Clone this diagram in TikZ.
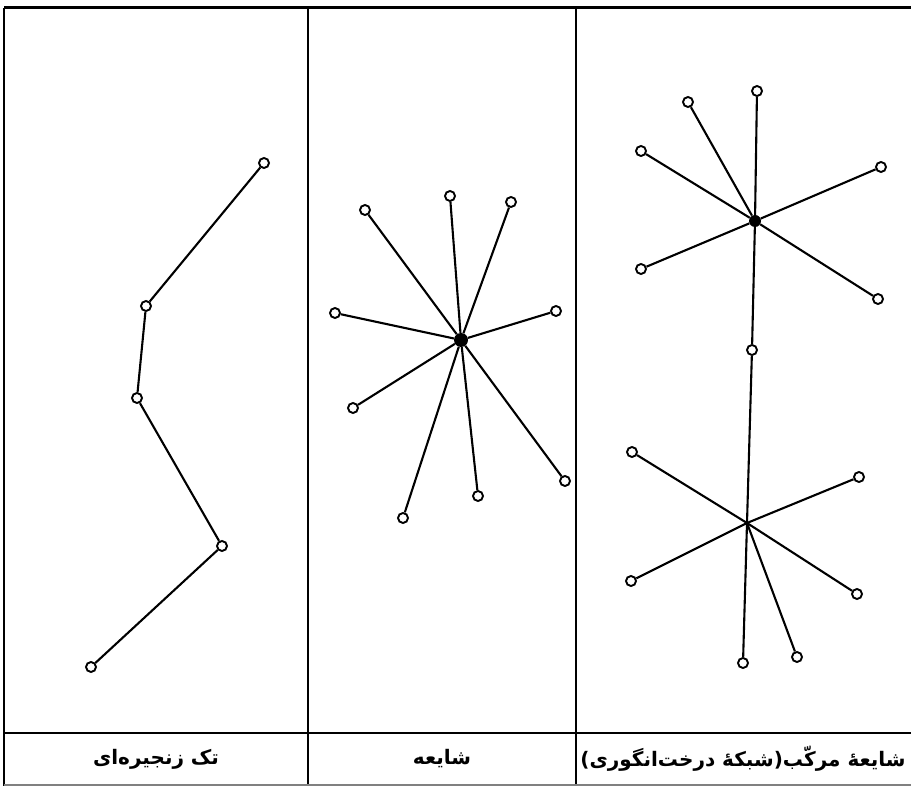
\documentclass[tikz,border=0pt]{standalone}
\usepackage{fontspec}
\usepackage{tikz}
\newfontfamily\arabicfont[Script=Arabic]{DejaVu Sans}
\TeXXeTstate=1

\begin{document}
\begin{tikzpicture}[x=1pt,y=-1pt,
  leaf/.style={circle,draw,fill=white,line width=1.9pt,inner sep=0pt,minimum size=10pt},
  hub/.style={circle,fill=black,inner sep=0pt,minimum size=14pt},
  link/.style={line width=2.1pt},
  colname/.style={font=\arabicfont\bfseries\fontsize{20}{24}\selectfont,inner sep=0pt}]
\path[use as bounding box] (0,0) rectangle (911,786);
% table frame
\draw[line width=3pt] (4,8) -- (911,8);
\draw[line width=2.6pt] (4,8) -- (4,786);
\draw[line width=2pt] (308,8) -- (308,786);
\draw[line width=2pt] (576,8) -- (576,786);
\draw[line width=2.4pt] (4,733) -- (911,733);
\draw[gray,line width=1.2pt] (4,785) -- (911,785);
% single chain
\node[leaf] (c1) at (264,163) {};
\node[leaf] (c2) at (146,306) {};
\node[leaf] (c3) at (137,398) {};
\node[leaf] (c4) at (222,546) {};
\node[leaf] (c5) at (91,667) {};
\draw[link] (c1) -- (c2) -- (c3) -- (c4) -- (c5);
% cluster
\node[hub] (s0) at (461,340) {};
\node[leaf] (s1) at (365,210) {};
\node[leaf] (s2) at (450,196) {};
\node[leaf] (s3) at (511,202) {};
\node[leaf] (s4) at (335,313) {};
\node[leaf] (s5) at (556,311) {};
\node[leaf] (s6) at (353,408) {};
\node[leaf] (s7) at (565,481) {};
\node[leaf] (s8) at (478,496) {};
\node[leaf] (s9) at (403,518) {};
\foreach \i in {1,...,9}
  \draw[link] (s0) -- (s\i);
% grapevine
\node[hub,minimum size=12pt] (g0) at (755,221) {};
\node[leaf] (g1) at (688,102) {};
\node[leaf] (g2) at (757,91) {};
\node[leaf] (g3) at (641,151) {};
\node[leaf] (g4) at (881,167) {};
\node[leaf] (g5) at (641,269) {};
\node[leaf] (g6) at (878,299) {};
\node[leaf] (gm) at (752,350) {};
\coordinate (h0) at (747,523);
\node[leaf] (h1) at (632,452) {};
\node[leaf] (h2) at (859,477) {};
\node[leaf] (h3) at (631,581) {};
\node[leaf] (h4) at (857,594) {};
\node[leaf] (h5) at (743,663) {};
\node[leaf] (h6) at (797,657) {};
\foreach \i in {1,...,6}
  \draw[link] (g0) -- (g\i);
\draw[link] (g0) -- (gm) -- (h0);
\foreach \i in {1,...,6}
  \draw[link] (h0) -- (h\i);
% column names
\node[colname] (t1) at (156,759) {\beginR تک زنجیره‌ای\endR};
\node[colname] (t2) at (442,759) {\beginR شایعه\endR};
\node[colname] (t3) at (743,759) {\beginR شایعهٔ مرکّب(شبکهٔ درخت‌انگوری)\endR};
\end{tikzpicture}
\end{document}
